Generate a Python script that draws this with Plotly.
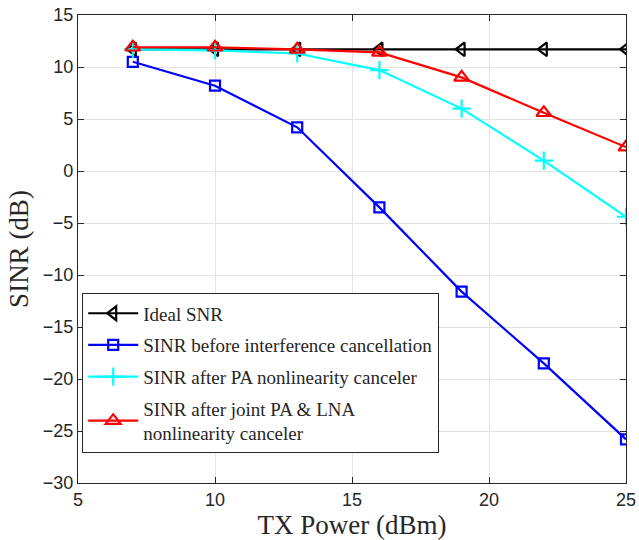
import plotly.graph_objects as go

tx_power = [7, 10, 13, 16, 19, 22, 25]
ideal_snr = [11.7, 11.7, 11.7, 11.7, 11.7, 11.7, 11.7]
sinr_before = [10.5, 8.2, 4.2, -3.5, -11.6, -18.5, -25.8]
sinr_pa = [11.7, 11.6, 11.3, 9.7, 6.0, 1.0, -4.4]
sinr_joint = [11.9, 11.9, 11.7, 11.4, 9.0, 5.6, 2.3]

names = ["Ideal SNR", "SINR before interference cancellation",
         "SINR after PA nonlinearity canceler",
         "SINR after joint PA &amp; LNA<br>nonlinearity canceler"]

fig = go.Figure()
series = [
    (ideal_snr, "black", "triangle-left-open", 12, names[0]),
    (sinr_before, "#0000ff", "square-open", 10, names[1]),
    (sinr_pa, "#00ffff", "cross-thin-open", 13, names[2]),
    (sinr_joint, "#ff0000", "triangle-up-open", 13, names[3]),
]
for i, (vals, col, sym, sz, nm) in enumerate(series):
    fig.add_trace(go.Scatter(
        x=tx_power, y=vals, mode="lines+markers", name=nm, legendgroup=f"g{i}",
        line=dict(color=col, width=2.2),
        marker=dict(symbol=sym, size=sz, color=col, line=dict(color=col, width=2.2)),
    ))

axis_common = dict(
    showgrid=True, gridcolor="#e3e3e3", gridwidth=1,
    showline=True, linecolor="#262626", linewidth=1.2, mirror="allticks",
    ticks="inside", ticklen=6, tickcolor="#262626",
    tickfont=dict(family="Liberation Sans, Arial", size=18, color="#262626"),
    zeroline=False, automargin=False,
)
fig.update_xaxes(range=[5, 25], dtick=5, **axis_common,
                 title=dict(text="TX Power (dBm)", standoff=8,
                            font=dict(family="Liberation Serif, serif", size=27, color="#262626")))
fig.update_yaxes(range=[-30, 15], dtick=5, **axis_common,
                 title=dict(text="SINR (dB)", standoff=6,
                            font=dict(family="Liberation Serif, serif", size=27, color="#262626")))

fig.update_layout(
    width=639, height=540,
    margin=dict(l=78, r=13, t=15, b=57),
    plot_bgcolor="white", paper_bgcolor="white",
    legend=dict(x=0.0073, y=0.4056, xanchor="left", yanchor="top",
                bgcolor="white", bordercolor="#262626", borderwidth=1.2,
                font=dict(family="Liberation Serif, serif", size=19, color="#262626"),
                itemwidth=50, tracegroupgap=4),
    showlegend=True,
)
fig.write_html("out.html")
